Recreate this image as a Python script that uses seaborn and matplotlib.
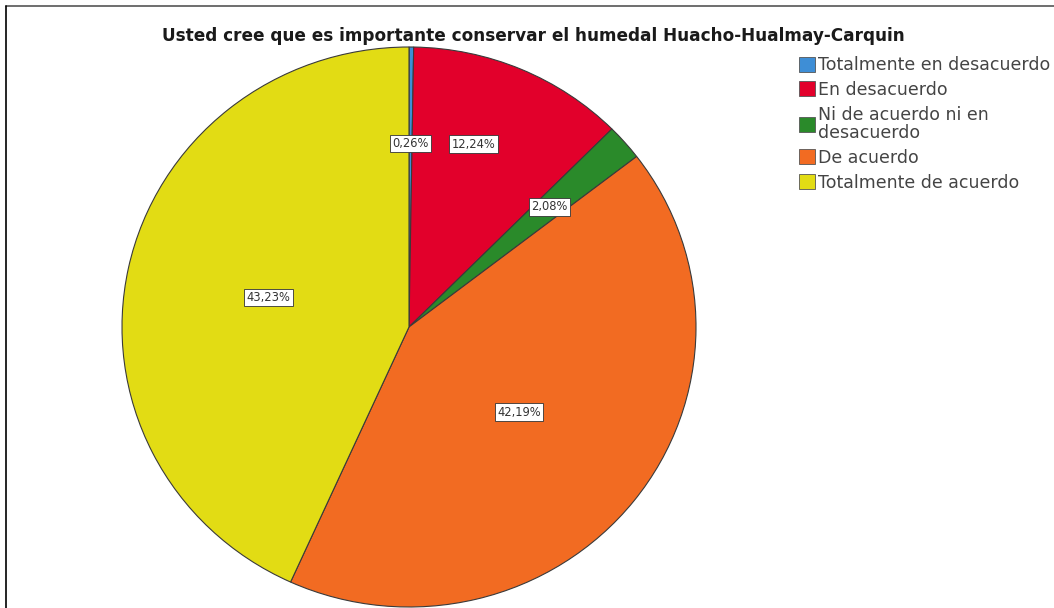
import numpy as np
import matplotlib
matplotlib.use("Agg")
import matplotlib.pyplot as plt
from matplotlib.lines import Line2D
from matplotlib.patches import Patch
import seaborn as sns

sns.set_theme(style="white")
plt.rcParams['font.family'] = ['DejaVu Sans']

title = "Usted cree que es importante conservar el humedal Huacho-Hualmay-Carquin"
categories = ["Totalmente en desacuerdo", "En desacuerdo",
              "Ni de acuerdo ni en\ndesacuerdo", "De acuerdo",
              "Totalmente de acuerdo"]
percentages = [0.26, 12.24, 2.08, 42.19, 43.23]
colors = ["#3e8ed6", "#e2002b", "#2a8a2a", "#f26b22", "#e2dc14"]
# radial placement of each percentage box (fraction of radius) and angular nudge (deg)
label_radius = [0.655, 0.69, 0.65, 0.49, 0.50]
label_nudge = [0.0, -4.0, 0.0, 0.0, 0.0]

W, H = 1054, 608
fig = plt.figure(figsize=(W / 100, H / 100), dpi=100)
fig.patch.set_facecolor("white")

# pie axes in pixel box
x0, y0, x1, y1 = 122, 47, 696, 607
ax = fig.add_axes([x0 / W, 1 - y1 / H, (x1 - x0) / W, (y1 - y0) / H])
wedges, _ = ax.pie(percentages, colors=colors, startangle=90, counterclock=False,
                   wedgeprops=dict(edgecolor="#3a3a3a", linewidth=0.8))
ax.set_aspect("auto")
ax.set_xlim(-1.0, 1.0)
ax.set_ylim(-1.0, 1.0)
ax.axis("off")

cum = np.cumsum([0] + percentages)
for i, p in enumerate(percentages):
    mid = (cum[i] + p / 2) / 100 * 360 + label_nudge[i]
    theta = np.deg2rad(90 - mid)
    r = label_radius[i]
    ax.text(r * np.cos(theta), r * np.sin(theta), f"{p:.2f}%".replace(".", ","),
            ha="center", va="center", fontsize=8.3, color="#333333",
            bbox=dict(boxstyle="square,pad=0.2", fc="white", ec="#333333", lw=0.6))

fig.text(533 / W, 1 - 36 / H, title, ha="center", va="center",
         fontsize=12.2, fontweight="bold", color="#1a1a1a")

handles = [Patch(facecolor=c, edgecolor="#555555", linewidth=0.6) for c in colors]
leg = fig.legend(handles, categories, loc="upper left", bbox_to_anchor=(799 / W, 1 - 56 / H),
                 frameon=False, handlelength=0.95, handleheight=0.95,
                 handletextpad=0.15, labelspacing=0.4, borderaxespad=0, borderpad=0,
                 labelcolor="#444444", prop={"family": "DejaVu Sans", "size": 12.5})
for t in leg.get_texts():
    t.set_linespacing(1.0)

# page frame lines
fig.add_artist(Line2D([6 / W, 1.0], [1 - 6 / H, 1 - 6 / H], color="#555555", lw=1.2,
                      transform=fig.transFigure))
fig.add_artist(Line2D([6 / W, 6 / W], [0, 1 - 6 / H], color="black", lw=1.2,
                      transform=fig.transFigure))

fig.savefig("out.png", dpi=100, facecolor="white")
